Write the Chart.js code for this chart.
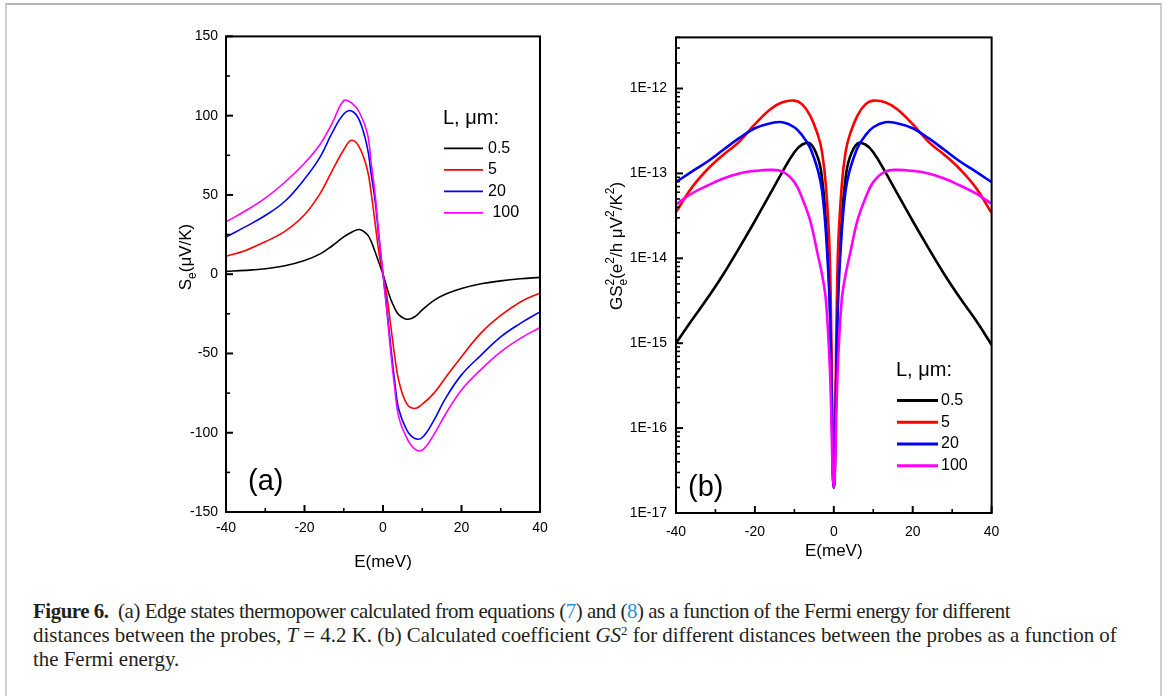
<!DOCTYPE html>
<html>
<head>
<meta charset="utf-8">
<script src="https://cdn.jsdelivr.net/npm/chart.js@4.4.1/dist/chart.umd.min.js"></script>
<style>
  body { margin: 0; background: #fff; width: 1163px; height: 696px; overflow: hidden; position: relative; }
  #frame { position: absolute; left: 5px; top: 3px; width: 1153px; height: 720px;
           border-top: 2px solid #b4b4b4; border-left: 2px solid #cfcfcf; border-right: 2px solid #cfcfcf; }
  canvas { position: absolute; top: 20px; }
  #caption { position: absolute; left: 33px; top: 599px; line-height: 24px; font-family: "Liberation Serif", serif;
             color: #231f20; white-space: nowrap; font-size: 18px; }
  #caption div { display: inline-block; }
  #caption .ref { color: #2a8fd0; }
  #caption sup { font-size: 0.62em; line-height: 0; vertical-align: 0.55em; }
</style>
</head>
<body>
<div id="frame"></div>
<canvas id="chartA" width="420" height="570" style="left:140px"></canvas>
<canvas id="chartB" width="420" height="570" style="left:590px"></canvas>
<div id="caption">
  <div id="cap1"><b>Figure 6.</b>&nbsp; (a) Edge states thermopower calculated from equations (<span class="ref">7</span>) and (<span class="ref">8</span>) as a function of the Fermi energy for different</div><br>
  <div id="cap2">distances between the probes, <i>T</i> = 4.2 K. (b) Calculated coefficient <i>GS</i><sup>2</sup> for different distances between the probes as a function of</div><br>
  <div id="cap3">the Fermi energy.</div>
</div>
<script>
// ---- data, panel (a): thermopower S_e (uV/K) vs E (meV)
const energyA = [-40, -35, -30, -25, -20, -16, -13, -10, -8, -6, -4, -3, -2, -1, 0,
                 1, 2, 3, 4, 6, 8, 10, 13, 16, 20, 25, 30, 35, 40];
const thermoL05 = [1.8, 2.4, 3.4, 5.3, 8.6, 12.8, 17.8, 23.5, 26.5, 28.2, 25, 20.5, 14, 7, 0,
                   -8.5, -16, -21.5, -25.5, -28.4, -27, -22.5, -16.5, -12.5, -9, -6, -4.2, -2.9, -2];
const thermoL5 = [11.3, 15, 20.5, 27, 37.5, 51, 65, 78.5, 84.5, 80, 66, 51, 32, 13, 0,
                  -14, -33, -52, -67, -81.5, -84.7, -82, -75, -65, -52, -37, -26, -17.5, -11.8];
const thermoL20 = [23.5, 30, 37, 46, 60, 74, 89, 101, 103, 97, 80, 63, 46, 22, 0,
                   -22, -46, -68, -85, -98, -103.5, -103, -92, -78, -63.5, -51, -39.5, -31, -23.8];
const thermoL100 = [33, 40, 48, 58, 70, 82, 95, 109.5, 108, 102, 89, 70, 50, 24, 0,
                    -24, -50, -72, -90, -103, -110, -111, -101, -88, -73, -60, -49, -40.5, -33.6];

// ---- data, panel (b): GS_e^2 vs E (meV), log axis
const energyB = [-40, -36, -32, -28, -24, -20, -16, -13, -10, -8, -6, -4, -3, -2, -1, 0,
                 1, 2, 3, 4, 6, 8, 10, 13, 16, 20, 24, 28, 32, 36, 40];
const gsL05 = [1.0e-15, 1.86e-15, 3.4e-15, 6.5e-15, 1.32e-14, 2.75e-14, 5.9e-14, 1.05e-13, 1.78e-13, 2.19e-13, 2.25e-13, 1.51e-13, 8.9e-14, 2.7e-14, 3.2e-15, 2e-17,
               3.2e-15, 2.7e-14, 8.9e-14, 1.51e-13, 2.25e-13, 2.19e-13, 1.78e-13, 1.05e-13, 5.9e-14, 2.75e-14, 1.32e-14, 6.5e-15, 3.4e-15, 1.86e-15, 9.6e-16];
const gsL5 = [3.5e-14, 6.8e-14, 1.12e-13, 1.66e-13, 2.35e-13, 3.8e-13, 5.75e-13, 6.9e-13, 7.2e-13, 6.5e-13, 4.8e-13, 2.8e-13, 1.8e-13, 7.1e-14, 1.0e-14, 2e-17,
              1.0e-14, 7.1e-14, 1.8e-13, 2.8e-13, 4.8e-13, 6.5e-13, 7.2e-13, 6.9e-13, 5.75e-13, 3.8e-13, 2.35e-13, 1.66e-13, 1.12e-13, 6.8e-14, 3.4e-14];
const gsL20 = [7.9e-14, 1.05e-13, 1.38e-13, 1.9e-13, 2.6e-13, 3.4e-13, 3.9e-13, 4.0e-13, 3.5e-13, 2.8e-13, 2.0e-13, 1.07e-13, 6.3e-14, 2.0e-14, 2.5e-15, 2e-17,
               2.5e-15, 2.0e-14, 6.3e-14, 1.07e-13, 2.0e-13, 2.8e-13, 3.5e-13, 4.0e-13, 3.9e-13, 3.4e-13, 2.6e-13, 1.9e-13, 1.38e-13, 1.05e-13, 7.9e-14];
const gsL100 = [4.3e-14, 5.8e-14, 7.2e-14, 8.7e-14, 1.0e-13, 1.07e-13, 1.1e-13, 1.05e-13, 7.9e-14, 5.1e-14, 2.8e-14, 1.07e-14, 6.5e-15, 3.2e-15, 5.0e-16, 2e-17,
                5.0e-16, 3.2e-15, 6.5e-15, 1.07e-14, 2.8e-14, 5.1e-14, 7.9e-14, 1.05e-13, 1.1e-13, 1.07e-13, 1.0e-13, 8.7e-14, 7.2e-14, 5.8e-14, 4.4e-14];

// ---- series and ticks
const seriesLabels = ['0.5', '5', '20', '100'];
const legendLabelsA = ['0.5', '5', '20', ' 100'];
const seriesColors = ['#000000', '#ff0000', '#0000ff', '#ff00ff'];
const energyTicks = [-40, -30, -20, -10, 0, 10, 20, 30, 40];
const energyLabels = ['-40', '', '-20', '', '0', '', '20', '', '40'];
const thermoTicks = [-150, -125, -100, -75, -50, -25, 0, 25, 50, 75, 100, 125, 150];
const thermoLabels = ['-150', '', '-100', '', '-50', '', '0', '', '50', '', '100', '', '150'];
const gsDecades = [1e-17, 1e-16, 1e-15, 1e-14, 1e-13, 1e-12];
const gsDecadeLabels = ['1E-17', '1E-16', '1E-15', '1E-14', '1E-13', '1E-12'];
const gsMax = 4e-12;

const sansFont = '"Liberation Sans", Arial, sans-serif';

// draw a string made of pieces with subscripts / superscripts, rotated -90deg
function drawRich(ctx, pieces, cx, cy, size) {
    const small = Math.round(size * 0.68);
    const fontOf = s => s + 'px ' + sansFont;
    let total = 0;
    pieces.forEach(p => {
        if (p.sub !== undefined || p.sup !== undefined) {
            ctx.font = fontOf(small);
            p.w = Math.max(ctx.measureText(p.sub || '').width, ctx.measureText(p.sup || '').width);
        } else {
            ctx.font = fontOf(size);
            p.w = ctx.measureText(p.t).width;
        }
        total += p.w;
    });
    ctx.save();
    ctx.translate(cx, cy);
    ctx.rotate(-Math.PI / 2);
    ctx.fillStyle = '#000';
    ctx.textAlign = 'left';
    ctx.textBaseline = 'alphabetic';
    let x = -total / 2;
    const base = size * 0.36;
    pieces.forEach(p => {
        if (p.sub !== undefined || p.sup !== undefined) {
            ctx.font = fontOf(small);
            if (p.sub) ctx.fillText(p.sub, x, base + size * 0.3);
            if (p.sup) ctx.fillText(p.sup, x, base - size * 0.45);
        } else {
            ctx.font = fontOf(size);
            ctx.fillText(p.t, x, base);
        }
        x += p.w;
    });
    ctx.restore();
}

const figureDecor = {
    id: 'figureDecor',
    afterDraw(chart, args, opts) {
        const ctx = chart.ctx;
        const area = chart.chartArea;
        const xs = chart.scales.x;
        const ys = chart.scales.y;
        ctx.save();
        ctx.strokeStyle = '#000';
        // inward tick marks, long for labelled ticks
        xs.ticks.forEach(t => {
            const px = xs.getPixelForValue(t.value);
            const major = t.label !== '';
            ctx.lineWidth = major ? 2 : 1.6;
            ctx.beginPath();
            ctx.moveTo(px, area.bottom);
            ctx.lineTo(px, area.bottom - (major ? 7 : 4));
            ctx.stroke();
        });
        ys.ticks.forEach(t => {
            const py = ys.getPixelForValue(t.value);
            const major = t.label !== '';
            ctx.lineWidth = major ? 2 : 1.6;
            ctx.beginPath();
            ctx.moveTo(area.left, py);
            ctx.lineTo(area.left + (major ? 7 : 4), py);
            ctx.stroke();
        });
        // box round the plot
        ctx.lineWidth = 2;
        ctx.strokeRect(area.left, area.top, area.right - area.left, area.bottom - area.top);

        drawRich(ctx, opts.yTitle, opts.yTitleX, opts.yTitleY, opts.yTitleSize);

        // panel letter
        ctx.fillStyle = '#000';
        ctx.font = '29px ' + sansFont;
        ctx.textAlign = 'left';
        ctx.textBaseline = 'middle';
        ctx.fillText(opts.panel, area.left + opts.panelDx, area.bottom - opts.panelDy);

        // legend
        ctx.font = '20px ' + sansFont;
        ctx.fillText('L, \u03bcm:', area.left + opts.legendDx, area.top + opts.legendHeadDy);
        ctx.font = '16px ' + sansFont;
        chart.data.datasets.forEach((ds, i) => {
            const y = area.top + opts.legendRowDy + i * opts.legendRowGap;
            ctx.strokeStyle = ds.borderColor;
            ctx.lineWidth = opts.legendLineWidth;
            ctx.beginPath();
            ctx.moveTo(area.left + opts.legendDx + 1, y);
            ctx.lineTo(area.left + opts.legendDx + 1 + opts.legendLineLen, y);
            ctx.stroke();
            ctx.fillText(opts.legendLabels[i], area.left + opts.legendTextDx, y);
        });
        ctx.restore();
    }
};

function makeDatasets(xs, seriesList, width) {
    return seriesList.map((ys, i) => ({
        label: seriesLabels[i],
        data: xs.map((x, j) => ({x: x, y: ys[j]})),
        borderColor: seriesColors[i],
        borderWidth: width,
        pointRadius: 0,
        fill: false,
        tension: 0.4,
        order: 3 - i // magenta on top
    }));
}

function energyAxis(labelPadding, titlePadding, height) {
    return {
        type: 'linear',
        min: -40,
        max: 40,
        afterBuildTicks: scale => { scale.ticks = energyTicks.map(v => ({value: v})); },
        afterFit: scale => { scale.height = height; },
        ticks: {
            autoSkip: false,
            maxRotation: 0,
            padding: labelPadding,
            color: '#000',
            font: {family: sansFont, size: 14},
            callback: v => energyLabels[energyTicks.indexOf(v)] || ''
        },
        grid: {display: false, drawTicks: false},
        border: {display: false},
        title: {
            display: true,
            text: 'E(meV)',
            color: '#000',
            font: {family: sansFont, size: 17},
            padding: {top: 0, bottom: titlePadding}
        }
    };
}

// Panel (a)
new Chart(document.getElementById('chartA').getContext('2d'), {
    type: 'line',
    data: {datasets: makeDatasets(energyA, [thermoL05, thermoL5, thermoL20, thermoL100], 1.6)},
    plugins: [figureDecor],
    options: {
        responsive: false,
        animation: false,
        devicePixelRatio: 1,
        layout: {padding: {top: 16, right: 20, left: 0, bottom: 0}},
        scales: {
            x: energyAxis(7.6, 17.8, 78),
            y: {
                type: 'linear',
                min: -150,
                max: 150,
                afterBuildTicks: scale => { scale.ticks = thermoTicks.map(v => ({value: v})); },
                afterFit: scale => { scale.width = 86; },
                ticks: {
                    autoSkip: false,
                    padding: 8,
                    color: '#000',
                    font: {family: sansFont, size: 14},
                    callback: v => thermoLabels[thermoTicks.indexOf(v)] || ''
                },
                grid: {display: false, drawTicks: false},
                border: {display: false}
            }
        },
        plugins: {
            legend: {display: false},
            tooltip: {enabled: false},
            figureDecor: {
                yTitle: [{t: 'S'}, {sub: 'e'}, {t: '(\u03bcV/K)'}],
                yTitleX: 45, yTitleY: 237, yTitleSize: 17,
                panel: '(a)', panelDx: 22, panelDy: 30,
                legendDx: 217, legendHeadDy: 82, legendRowDy: 112, legendRowGap: 21.5,
                legendLineLen: 39, legendTextDx: 262, legendLineWidth: 1.6,
                legendLabels: legendLabelsA
            }
        }
    }
});

// Panel (b)
new Chart(document.getElementById('chartB').getContext('2d'), {
    type: 'line',
    data: {datasets: makeDatasets(energyB, [gsL05, gsL5, gsL20, gsL100], 2.6)},
    plugins: [figureDecor],
    options: {
        responsive: false,
        animation: false,
        devicePixelRatio: 1,
        layout: {padding: {top: 15, right: 17, left: 0, bottom: 0}},
        scales: {
            x: energyAxis(10.6, 28.8, 77),
            y: {
                type: 'logarithmic',
                min: 1e-17,
                max: gsMax,
                afterBuildTicks: scale => {
                    const ticks = [];
                    gsDecades.forEach(d => {
                        for (let m = 1; m <= 9; m++) {
                            if (m * d <= gsMax * 1.0001) ticks.push({value: m * d});
                        }
                    });
                    scale.ticks = ticks;
                },
                afterFit: scale => { scale.width = 86; },
                ticks: {
                    autoSkip: false,
                    padding: 9,
                    color: '#000',
                    font: {family: sansFont, size: 14},
                    callback: v => {
                        const i = gsDecades.findIndex(d => Math.abs(v / d - 1) < 1e-6);
                        return i >= 0 ? gsDecadeLabels[i] : '';
                    }
                },
                grid: {display: false, drawTicks: false},
                border: {display: false}
            }
        },
        plugins: {
            legend: {display: false},
            tooltip: {enabled: false},
            figureDecor: {
                yTitle: [{t: 'GS'}, {sub: 'e', sup: '2'}, {t: '(e'}, {sup: '2'}, {t: '/h \u03bcV'}, {sup: '2'}, {t: '/K'}, {sup: '2'}, {t: ')'}],
                yTitleX: 26, yTitleY: 226, yTitleSize: 17,
                panel: '(b)', panelDx: 12, panelDy: 25,
                legendDx: 220, legendHeadDy: 333, legendRowDy: 363, legendRowGap: 21.8,
                legendLineLen: 41, legendTextDx: 265, legendLineWidth: 3,
                legendLabels: seriesLabels
            }
        }
    }
});

// caption: size the type from the second line, then tighten the first a little
const cap = document.getElementById('caption');
const line1 = document.getElementById('cap1');
const line2 = document.getElementById('cap2');
cap.style.fontSize = (18 * 1084 / line2.getBoundingClientRect().width).toFixed(2) + 'px';
const chars1 = line1.textContent.trim().length;
line1.style.letterSpacing = ((977 - line1.getBoundingClientRect().width) / chars1).toFixed(3) + 'px';
</script>
</body>
</html>
